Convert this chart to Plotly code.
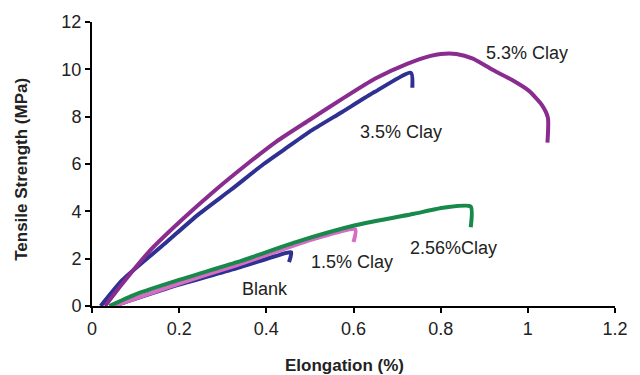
import plotly.graph_objects as go

# Data (Elongation %, Tensile strength MPa)
clay53_x = [0.03, 0.07, 0.131, 0.205, 0.28, 0.356, 0.423, 0.498, 0.574, 0.649, 0.723, 0.777, 0.80, 0.836, 0.874, 0.919, 0.964, 1.002, 1.032, 1.046, 1.045]
clay53_y = [0.0, 0.95, 2.3, 3.62, 4.85, 6.0, 6.95, 7.85, 8.75, 9.6, 10.23, 10.57, 10.65, 10.65, 10.45, 9.98, 9.55, 9.1, 8.5, 7.96, 6.9]

clay35_x = [0.02, 0.07, 0.168, 0.243, 0.318, 0.394, 0.44, 0.498, 0.574, 0.649, 0.732, 0.735]
clay35_y = [0.0, 1.1, 2.65, 3.85, 4.9, 6.0, 6.6, 7.35, 8.2, 9.05, 9.85, 9.22]

clay256_x = [0.04, 0.1, 0.198, 0.333, 0.468, 0.604, 0.739, 0.813, 0.869, 0.869]
clay256_y = [0.0, 0.49, 1.09, 1.85, 2.7, 3.41, 3.9, 4.17, 4.2, 3.33]

clay15_x = [0.05, 0.2, 0.333, 0.514, 0.604, 0.600]
clay15_y = [0.0, 0.95, 1.73, 2.86, 3.24, 2.7]

blank_x = [0.05, 0.2, 0.333, 0.42, 0.457, 0.452]
blank_y = [0.0, 0.9, 1.6, 2.1, 2.27, 1.85]

label_text = ["5.3% Clay", "3.5% Clay", "2.56%Clay", "1.5% Clay", "Blank"]
label_x = [0.998, 0.71, 0.83, 0.597, 0.396]
label_y = [10.69, 7.35, 2.45, 1.85, 0.72]

x_ticks = [0, 0.2, 0.4, 0.6, 0.8, 1.0, 1.2]
x_tick_text = ["0", "0.2", "0.4", "0.6", "0.8", "1", "1.2"]
y_ticks = [0, 2, 4, 6, 8, 10, 12]

PURPLE = "#8A2B8F"
BLUE = "#2E3192"
GREEN = "#17894A"
PINK = "#D56DC3"

fig = go.Figure()
series = [
    (clay35_x, clay35_y, BLUE),
    (clay53_x, clay53_y, PURPLE),
    (blank_x, blank_y, BLUE),
    (clay15_x, clay15_y, PINK),
    (clay256_x, clay256_y, GREEN),
]
for xs, ys, c in series:
    fig.add_trace(go.Scatter(x=xs, y=ys, mode="lines",
                             line=dict(color=c, width=4, shape="spline", smoothing=0.6),
                             showlegend=False, hoverinfo="skip"))

font_family = "Liberation Sans, Arial, sans-serif"
for t, x, y in zip(label_text, label_x, label_y):
    fig.add_annotation(x=x, y=y, xref="x", yref="y", text=t, showarrow=False,
                       font=dict(family=font_family, size=18, color="#222"),
                       xanchor="center", yanchor="middle")

fig.add_annotation(x=0.579, y=-0.2105, xref="x", yref="paper",
                   text="<b>Elongation (%)</b>", showarrow=False,
                   font=dict(family=font_family, size=17, color="#222"),
                   xanchor="center", yanchor="middle")
fig.add_annotation(x=-0.135, y=5.77, xref="paper", yref="y",
                   text="<b>Tensile Strength (MPa)</b>", showarrow=False,
                   textangle=-90,
                   font=dict(family=font_family, size=17, color="#222"),
                   xanchor="center", yanchor="middle")

axis_common = dict(showline=True, linecolor="black", linewidth=2,
                   ticks="outside", ticklen=5, tickwidth=2, tickcolor="black",
                   showgrid=False, zeroline=False,
                   tickfont=dict(family=font_family, size=18, color="#222"))

fig.update_layout(
    width=640, height=375,
    margin=dict(l=92, r=15, t=21, b=69),
    paper_bgcolor="white", plot_bgcolor="white",
    xaxis=dict(range=[0, 1.2], tickvals=x_ticks, ticktext=x_tick_text, **axis_common),
    yaxis=dict(range=[0, 12], tickvals=y_ticks, **axis_common),
)

fig.write_html("out.html")
